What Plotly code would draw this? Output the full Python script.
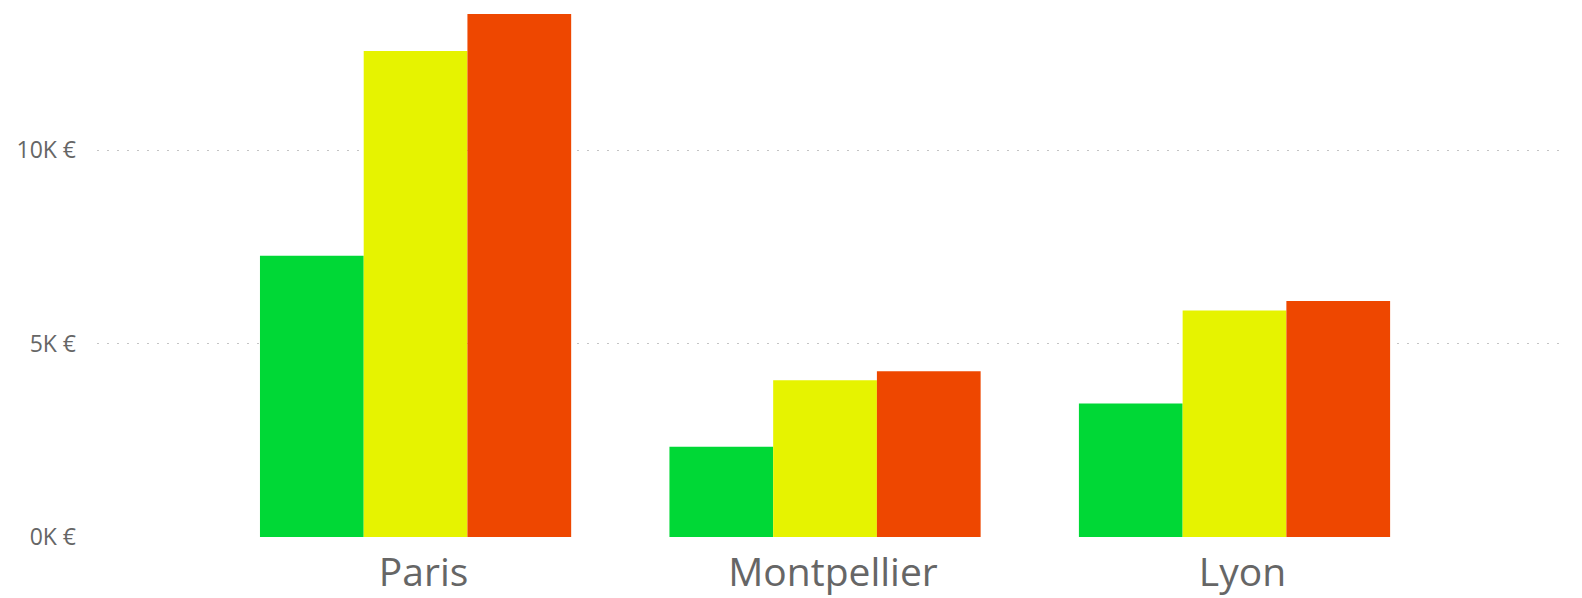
import plotly.graph_objects as go

cities = ["Paris", "Montpellier", "Lyon"]
series_names = ["Série 1", "Série 2", "Série 3"]
green_values = [7269, 2330, 3450]
yellow_values = [12558, 4050, 5850]
red_values = [13514, 4285, 6100]
colors = ["#00D836", "#E6F300", "#EE4700"]
y_tick_vals = [0, 5000, 10000]
y_tick_text = ["0K €", "5K €", "10K €"]

fig = go.Figure()
for name, vals, col in zip(series_names, [green_values, yellow_values, red_values], colors):
    fig.add_trace(go.Bar(x=cities, y=vals, name=name, marker=dict(color=col, line=dict(width=0))))

fig.update_layout(
    barmode="group",
    bargap=0.24,
    bargroupgap=0,
    showlegend=False,
    width=1582,
    height=598,
    margin=dict(l=97, r=15, t=0, b=61),
    paper_bgcolor="white",
    plot_bgcolor="white",
    font=dict(family="Open Sans", color="#666666"),
)
fig.update_xaxes(
    range=[-0.778, 2.812],
    showgrid=False,
    showline=False,
    zeroline=False,
    ticks="",
    ticklabelstandoff=9,
    ticklabelshift=8,
    tickfont=dict(size=39, color="#666666"),
)
fig.update_yaxes(
    range=[0, 13876],
    tickvals=y_tick_vals,
    ticktext=y_tick_text,
    showgrid=True,
    gridcolor="#C4C4C4",
    gridwidth=1,
    griddash="2px,8px",
    zeroline=False,
    showline=False,
    ticks="",
    ticklabelstandoff=20,
    tickfont=dict(size=23, color="#666666"),
)
fig.write_html("out.html", config={"displayModeBar": False},
               post_script="document.body.style.margin='0';")
